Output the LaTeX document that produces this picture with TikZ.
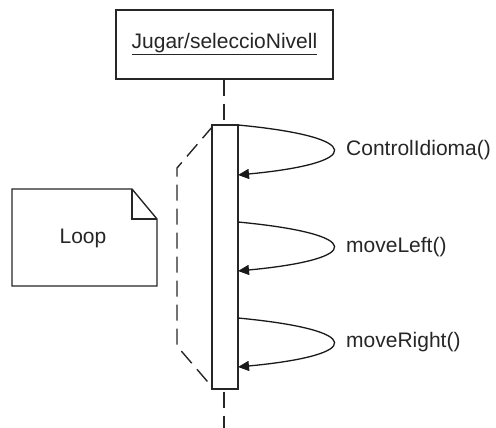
\documentclass[tikz,border=0pt]{standalone}
\usepackage{fontspec}
\setmainfont{Liberation Sans}
\usetikzlibrary{arrows.meta}
\begin{document}
\begin{tikzpicture}[x=1pt,y=-1pt,
  line/.style={line width=1.4pt, draw=black!85},
  dashline/.style={line width=1.4pt, draw=black!85, dash pattern=on 16pt off 8pt},
  selfmsg/.style={line width=1.3pt, draw=black!90, -{Triangle[length=11pt,width=10pt]}},
  lbl/.style={font=\fontsize{21}{24}\selectfont, text=black!85, anchor=west, inner sep=0pt},
  ]
\useasboundingbox (0,0) rectangle (496,428);

% object header
\node[line, fill=white, minimum width=217pt, minimum height=69pt, inner sep=0pt,
      font=\fontsize{21}{24}\selectfont, text=black!85] (obj) at (224.5,44.5)
  {\underline{Jugar/seleccioNivell}};

% lifeline, activation bar
\coordinate (lifeEnd) at (224,428);
\draw[dashline] (obj.south -| 224,0) -- (lifeEnd);

% loop bracket around the activation
\coordinate (la) at (213,126);
\coordinate (lb) at (177,168);
\coordinate (lc) at (177,346);
\coordinate (ld) at (213,388);
\draw[dashline] (la) -- (lb) -- (lc) -- (ld);

\node[line, fill=white, minimum width=26pt, minimum height=264pt, inner sep=0pt]
  (bar) at (225,257) {};

% self messages
\coordinate (s1) at (238,125);  \coordinate (e1) at (238,175);
\coordinate (s2) at (238,222);  \coordinate (e2) at (238,271);
\coordinate (s3) at (238,318);  \coordinate (e3) at (238,367);
\draw[selfmsg] (s1) .. controls (365,137) and (365,163) .. (e1);
\draw[selfmsg] (s2) .. controls (365,234) and (365,259) .. (e2);
\draw[selfmsg] (s3) .. controls (365,330) and (365,355) .. (e3);

\node[lbl] (m1) at (346,150) {ControlIdioma()};
\node[lbl] (m2) at (346,247) {moveLeft()};
\node[lbl] (m3) at (346,342) {moveRight()};

% note
\draw[line, fill=white] (12,189) -- (132,189) -- (157,219) -- (157,286) -- (12,286) -- cycle;
\draw[line] (132,189) -- (132,219) -- (157,219);
\node[font=\fontsize{21}{24}\selectfont, text=black!85] (note) at (83,238) {Loop};
\end{tikzpicture}
\end{document}
